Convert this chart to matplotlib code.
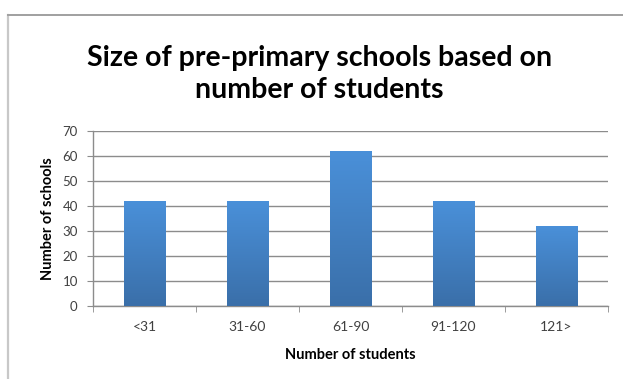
import numpy as np
import matplotlib
matplotlib.use("Agg")
import matplotlib.pyplot as plt
from matplotlib.lines import Line2D

# ── Data ──────────────────────────────────────────────────────
categories = ["<31", "31-60", "61-90", "91-120", "121>"]
schools    = [42, 42, 62, 42, 32]
y_ticks    = [0, 10, 20, 30, 40, 50, 60, 70]

TITLE   = "Size of pre-primary schools based on\nnumber of students"
X_LABEL = "Number of students"
Y_LABEL = "Number of schools"

plt.rcParams["font.family"] = ["Lato", "DejaVu Sans"]

fig = plt.figure(figsize=(6.23, 3.79), dpi=100)
ax = fig.add_axes([0.1493, 0.1934, 0.8266, 0.4610])

# chart frame (left + top edge only, rest is cropped)
fig.add_artist(Line2D([8 / 623, 8 / 623], [1 / 379, 1 - 15 / 379],
                      color="#c8c8c8", lw=1.6, transform=fig.transFigure))
fig.add_artist(Line2D([8 / 623, 1.0], [1 - 15 / 379, 1 - 15 / 379],
                      color="#a0a0a0", lw=1.4, transform=fig.transFigure))

x = np.arange(len(categories))
bars = ax.bar(x, schools, width=0.4, color="#4285cc", zorder=2)

# vertical gradient fill for each bar: lighter top, darker bottom
grad = np.linspace(0, 1, 256).reshape(-1, 1)
cmap = matplotlib.colors.LinearSegmentedColormap.from_list(
    "barfill", ["#3a6fa9", "#4a90d9"])
for b in bars:
    bx, by = b.get_x(), b.get_y()
    bw, bh = b.get_width(), b.get_height()
    im = ax.imshow(grad, extent=[bx, bx + bw, by, by + bh], origin="lower",
                   cmap=cmap, aspect="auto", zorder=3)
    im.set_clip_path(b)

ax.set_xlim(-0.5, len(categories) - 0.5)
ax.set_ylim(0, 70)
ax.set_yticks(y_ticks)
ax.set_xticks(x)
ax.set_xticklabels(categories)
ax.set_xticks(np.arange(-0.5, len(categories), 1), minor=True)

ax.yaxis.grid(True, color="#8c8c8c", lw=1.0, zorder=0)
ax.set_axisbelow(True)
for s in ["top", "right"]:
    ax.spines[s].set_visible(False)
for s in ["left", "bottom"]:
    ax.spines[s].set_color("#8c8c8c")
    ax.spines[s].set_linewidth(1.0)

ax.tick_params(axis="y", which="major", length=4, color="#8c8c8c",
               labelsize=9.5, labelcolor="#404040", pad=7)
ax.tick_params(axis="x", which="major", length=0, labelsize=10,
               labelcolor="#404040", pad=11)
ax.tick_params(axis="x", which="minor", length=4, color="#8c8c8c")

ax.set_xlabel(X_LABEL, fontsize=10.5, fontweight="bold", labelpad=11)
ax.set_ylabel(Y_LABEL, fontsize=10.5, fontweight="bold", labelpad=5)

fig.text(0.513, 1 - 74 / 379, TITLE, ha="center", va="center",
         fontsize=20.5, fontweight="bold", linespacing=1.3)

fig.savefig("out.png", dpi=100)
